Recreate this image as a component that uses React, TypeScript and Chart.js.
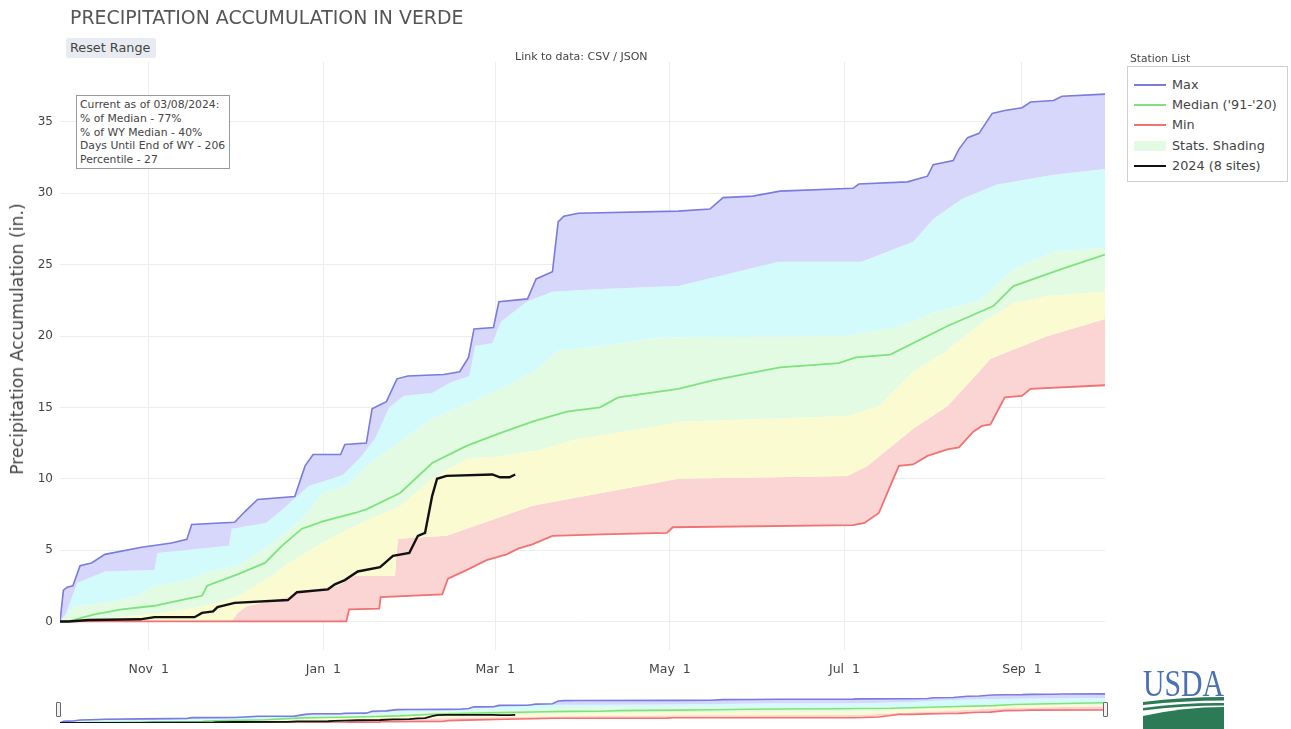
import React, { useEffect, useRef } from "react";
import { Chart, registerables } from "chart.js";
Chart.register(...registerables);

// Days since Oct 1, 2023 (water year 2024)
const maxDays = [0, 1.2, 2.5, 4.5, 7, 11, 15.7, 28.5, 39, 44.3, 46, 61, 64.6, 69, 82, 85.6, 88.4, 98, 99.5, 107, 109, 112, 114, 117.7, 121.5, 134, 139.6, 142.7, 144.6, 151.4, 153.3, 163.3, 166.3, 172, 174, 176, 181, 216, 227, 231.6, 242, 251.5, 277, 279, 296, 303, 305, 312, 314, 317, 321, 325.6, 330, 336, 339, 347, 350, 365];
const maxVals = [0, 2.2, 2.4, 2.5, 3.9, 4.1, 4.7, 5.2, 5.5, 5.75, 6.8, 6.95, 7.7, 8.55, 8.75, 10.9, 11.7, 11.7, 12.4, 12.5, 14.9, 15.2, 15.4, 17.0, 17.2, 17.3, 17.5, 18.5, 20.5, 20.6, 22.4, 22.6, 24.0, 24.5, 28.0, 28.4, 28.6, 28.75, 28.9, 29.7, 29.8, 30.15, 30.35, 30.65, 30.8, 31.2, 32.0, 32.3, 33.1, 33.9, 34.2, 35.6, 35.8, 36.0, 36.4, 36.5, 36.8, 36.95];

const p90Days = [0, 2, 6, 15.7, 33, 34, 59, 60, 72, 78, 83, 87, 95, 99, 105, 110, 115, 120, 130, 136, 143, 145, 151, 154, 163, 172, 189, 216, 251, 280, 298, 305, 315, 327, 347, 365];
const p90Vals = [0, 0.5, 2.7, 3.5, 3.6, 4.8, 5.3, 6.5, 6.9, 7.9, 8.8, 9.5, 10.0, 10.3, 11.5, 12.8, 15.0, 15.8, 16.0, 16.7, 17.2, 19.3, 19.5, 21.0, 22.4, 23.1, 23.3, 23.5, 25.2, 25.2, 26.6, 28.2, 29.6, 30.6, 31.3, 31.7];

const p70Days = [0, 5, 15.7, 27, 33, 45, 50.6, 62, 70.5, 77.5, 85.6, 91.5, 100, 107, 118, 130, 154, 167, 174, 189, 209, 274, 292, 306, 321, 333, 347, 365];
const p70Vals = [0, 1.05, 1.3, 1.8, 2.5, 2.9, 3.4, 3.9, 5.0, 6.0, 7.4, 9.0, 9.5, 10.9, 12.5, 14.2, 16.3, 17.7, 19.0, 19.3, 19.9, 20.0, 20.6, 21.7, 22.5, 24.7, 25.9, 26.2];

const medianDays = [0, 3, 12, 21.6, 33, 44.7, 49.6, 51.4, 62, 71.6, 77.5, 84.5, 91.5, 103, 107, 118.8, 130, 142, 153.7, 165, 177, 188.6, 195, 216, 228, 241, 251.5, 272, 278, 290, 310, 326, 333, 350, 365];
const medianVals = [0, 0, 0.5, 0.85, 1.1, 1.6, 1.8, 2.5, 3.3, 4.1, 5.3, 6.5, 7.0, 7.6, 7.85, 9.0, 11.1, 12.3, 13.2, 14.0, 14.7, 15.0, 15.7, 16.3, 16.9, 17.4, 17.8, 18.1, 18.5, 18.7, 20.7, 22.1, 23.5, 24.7, 25.7];

const p30Days = [0, 10, 35, 50, 62, 74, 80, 91.5, 103, 119, 130, 142, 154, 167, 181, 209, 216, 275, 286, 298, 310, 321, 333, 345, 365];
const p30Vals = [0, 0.1, 0.6, 1.05, 1.75, 3.2, 4.1, 5.5, 6.7, 8.1, 10.0, 11.4, 11.6, 12.0, 12.8, 13.7, 14.0, 14.4, 15.1, 17.5, 19.0, 20.8, 22.3, 22.8, 23.1];

const p10Days = [0, 60, 62, 65, 80, 82, 97, 103, 117, 118, 135, 152, 165, 189, 216, 275, 282, 298, 310, 321, 325, 345, 365];
const p10Vals = [0, 0, 0.6, 1.05, 1.75, 2.1, 2.5, 3.2, 3.2, 5.8, 6.0, 7.2, 8.1, 9.0, 10.0, 10.2, 10.9, 13.5, 15.1, 17.5, 18.4, 20.0, 21.2];

const minDays = [0, 100, 101, 111.5, 112, 133.5, 135.5, 142, 149, 156, 160, 165, 172, 189, 212, 214, 277, 281, 286, 290, 293, 298, 303, 310, 314, 319, 322, 325, 330, 336, 339, 365];
const minVals = [0, 0, 0.85, 0.9, 1.7, 1.9, 3.0, 3.6, 4.3, 4.7, 5.1, 5.4, 6.0, 6.1, 6.2, 6.6, 6.75, 6.9, 7.6, 9.5, 10.9, 11.0, 11.6, 12.05, 12.2, 13.3, 13.7, 13.8, 15.7, 15.8, 16.3, 16.55];

const wy2024Days = [0, 3, 10, 28, 33, 47, 49.6, 53.5, 55, 61, 79.6, 82.8, 93.6, 96, 99.5, 104, 111.8, 116.3, 122, 125, 127.5, 130, 131.7, 135, 151, 153.7, 157, 159];
const wy2024Vals = [0, 0, 0.1, 0.15, 0.3, 0.3, 0.6, 0.7, 1.0, 1.3, 1.5, 2.05, 2.25, 2.6, 2.9, 3.5, 3.8, 4.6, 4.8, 6.0, 6.2, 8.8, 10.0, 10.2, 10.3, 10.1, 10.1, 10.3];

const xTickDays = [31, 92, 152, 213, 274, 336];
const xTickLabels = ["Nov  1", "Jan  1", "Mar  1", "May  1", "Jul  1", "Sep  1"];
const yTickVals = [0, 5, 10, 15, 20, 25, 30, 35];

const infoLines = [
  "Current as of 03/08/2024:",
  "% of Median - 77%",
  "% of WY Median - 40%",
  "Days Until End of WY - 206",
  "Percentile - 27",
];

const COL = {
  max: "#7a7ae0",
  median: "#7ee37e",
  min: "#f07272",
  black: "#111111",
  purple: "#d7d7fb",
  cyan: "#d3fbfb",
  green: "#e3fbe3",
  yellow: "#fbfbd1",
  red: "#fbd4d4",
};

const legendItems = [
  { label: "Max", color: COL.max, h: 2 },
  { label: "Median ('91-'20)", color: COL.median, h: 2 },
  { label: "Min", color: COL.min, h: 2 },
  { label: "Stats. Shading", color: "#e3fbe3", h: 10 },
  { label: "2024 (8 sites)", color: "#111", h: 2.5 },
];

const pts = (d: number[], v: number[]) => d.map((x, i) => ({ x, y: v[i] }));
const FONT = "DejaVu Sans";

function buildDatasets(mini: boolean): any[] {
  const w = mini ? 1.6 : 1.8;
  const none = "rgba(0,0,0,0)";
  return [
    { label: "2024", data: pts(wy2024Days, wy2024Vals), borderColor: COL.black, borderWidth: mini ? 1.8 : 2.4, fill: false },
    { label: "Median", data: pts(medianDays, medianVals), borderColor: COL.median, borderWidth: w, fill: false },
    { label: "Max", data: pts(maxDays, maxVals), borderColor: COL.max, borderWidth: mini ? 1.6 : 1.6, fill: 3, backgroundColor: COL.purple },
    { label: "p90", data: pts(p90Days, p90Vals), borderColor: none, borderWidth: 1, fill: 4, backgroundColor: COL.cyan },
    { label: "p70", data: pts(p70Days, p70Vals), borderColor: none, borderWidth: 1, fill: 5, backgroundColor: COL.green },
    { label: "p30", data: pts(p30Days, p30Vals), borderColor: none, borderWidth: 1, fill: 6, backgroundColor: COL.yellow },
    { label: "p10", data: pts(p10Days, p10Vals), borderColor: none, borderWidth: 1, fill: 7, backgroundColor: COL.red },
    { label: "Min", data: pts(minDays, minVals), borderColor: COL.min, borderWidth: w, fill: false },
  ];
}

export default function App() {
  const mainRef = useRef<HTMLCanvasElement>(null);
  const miniRef = useRef<HTMLCanvasElement>(null);

  useEffect(() => {
    const main = new Chart(mainRef.current as HTMLCanvasElement, {
      type: "line",
      data: { datasets: buildDatasets(false) },
      options: {
        animation: false,
        responsive: false,
        layout: { padding: { left: 15, right: 186, top: 62, bottom: 49 } },
        elements: { point: { radius: 0 }, line: { tension: 0 } },
        plugins: {
          legend: { display: false },
          tooltip: { enabled: false },
          filler: { drawTime: "beforeDatasetsDraw" },
        } as any,
        scales: {
          x: {
            type: "linear",
            min: 0,
            max: 365,
            afterBuildTicks: (s: any) => {
              s.ticks = xTickDays.map((v) => ({ value: v }));
            },
            afterFit: (s: any) => {
              s.height = 30;
            },
            grid: { color: "#ededed", drawTicks: false },
            border: { display: false },
            ticks: {
              autoSkip: false,
              maxRotation: 0,
              padding: 12,
              color: "#444",
              font: { family: FONT, size: 12.5 },
              callback: (_v: any, i: number) => xTickLabels[i],
            },
          },
          y: {
            type: "linear",
            min: -2,
            max: 39.2,
            afterBuildTicks: (s: any) => {
              s.ticks = yTickVals.map((v) => ({ value: v }));
            },
            afterFit: (s: any) => {
              s.width = 45;
            },
            grid: { color: "#ededed", drawTicks: false },
            border: { display: false },
            ticks: { padding: 7, color: "#444", font: { family: FONT, size: 12 } },
          },
        } as any,
      },
    });

    const mini = new Chart(miniRef.current as HTMLCanvasElement, {
      type: "line",
      data: { datasets: buildDatasets(true) },
      options: {
        animation: false,
        responsive: false,
        layout: { padding: { left: 60, right: 186, top: 5.5, bottom: 5 } },
        elements: { point: { radius: 0 }, line: { tension: 0 } },
        plugins: {
          legend: { display: false },
          tooltip: { enabled: false },
          filler: { drawTime: "beforeDatasetsDraw" },
        } as any,
        scales: {
          x: { type: "linear", min: 0, max: 365, display: false },
          y: { type: "linear", min: 0, max: 40, display: false },
        } as any,
      },
    });

    return () => {
      main.destroy();
      mini.destroy();
    };
  }, []);

  const abs = (s: React.CSSProperties): React.CSSProperties => ({ position: "absolute", ...s });

  return (
    <div style={abs({ left: 0, top: 0, width: 1291, height: 729, background: "#fff", fontFamily: FONT, color: "#444", overflow: "hidden" })}>
      <canvas ref={mainRef} width={1291} height={729} style={abs({ left: 0, top: 0, width: 1291, height: 729 })} />
      <canvas ref={miniRef} width={1291} height={42} style={abs({ left: 0, top: 686, width: 1291, height: 42 })} />

      <div style={abs({ left: 70, top: 5, fontSize: 18.9, lineHeight: "24px", color: "#555", whiteSpace: "nowrap" })}>
        PRECIPITATION ACCUMULATION IN VERDE
      </div>

      <div style={abs({ left: 66, top: 38, width: 90, height: 20, background: "#e8ecf2", borderRadius: 2, fontSize: 12.8, lineHeight: "20px", paddingLeft: 4, boxSizing: "border-box", whiteSpace: "nowrap" })}>
        Reset Range
      </div>

      <div style={abs({ left: 515, top: 50, fontSize: 11, lineHeight: "14px", whiteSpace: "nowrap" })}>
        Link to data: CSV / JSON
      </div>

      <div style={abs({ left: 76, top: 95, width: 154, height: 74, border: "1px solid #9a9a9a", background: "#fff", boxSizing: "border-box", padding: "2px 3px", fontSize: 10.8, lineHeight: "13.8px", whiteSpace: "nowrap" })}>
        {infoLines.map((t) => (
          <div key={t}>{t}</div>
        ))}
      </div>

      <div style={abs({ left: 1130, top: 52, fontSize: 10.7, lineHeight: "13px", whiteSpace: "nowrap" })}>Station List</div>
      <div style={abs({ left: 1127, top: 66, width: 161, height: 116, border: "1px solid #cfcfcf", boxSizing: "border-box", background: "#fff" })}>
        {legendItems.map((it, i) => (
          <div key={it.label} style={abs({ left: 0, top: 8 + i * 20.2, height: 20, width: 158 })}>
            <div style={abs({ left: 6, top: 10 - it.h / 2, width: 32, height: it.h, background: it.color })} />
            <div style={abs({ left: 44, top: 1, fontSize: 12.8, lineHeight: "18px", whiteSpace: "nowrap" })}>{it.label}</div>
          </div>
        ))}
      </div>

      <div style={abs({ left: 17, top: 339, transform: "translate(-50%, -50%) rotate(-90deg)", fontSize: 17.3, lineHeight: "20px", whiteSpace: "nowrap" })}>
        Precipitation Accumulation (in.)
      </div>

      <div style={abs({ left: 56, top: 702, width: 5, height: 15, border: "1px solid #666", background: "#f2f2f2", boxSizing: "border-box", borderRadius: 1 })} />
      <div style={abs({ left: 1103, top: 702, width: 5, height: 15, border: "1px solid #666", background: "#f2f2f2", boxSizing: "border-box", borderRadius: 1 })} />

      <svg width={90} height={62} style={abs({ left: 1139, top: 667 })}>
        <text x={4} y={29} fontFamily="Liberation Serif" fontSize={38} fill="#4a70b6" textLength={81} lengthAdjust="spacingAndGlyphs">USDA</text>
        <path d="M4 35 Q44 30 85 30 L85 33.5 Q44 33.5 4 38 Z" fill="#2d7b56" />
        <path d="M4 41 Q44 35.5 85 36 L85 38.5 Q44 38.5 4 43.5 Z" fill="#2d7b56" />
        <path d="M4 49 Q44 40 85 40 L85 62 L4 62 Z" fill="#2d7b56" />
      </svg>
    </div>
  );
}
